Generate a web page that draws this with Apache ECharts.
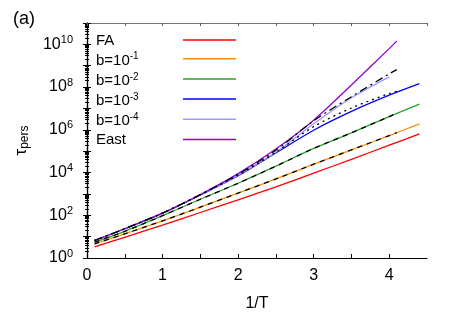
<!DOCTYPE html>
<html>
<head>
<meta charset="utf-8">
<script src="https://cdn.jsdelivr.net/npm/echarts@6/dist/echarts.min.js"></script>
<style>
html,body{margin:0;padding:0;background:#fff;}
#chart{width:463px;height:323px;}
</style>
</head>
<body>
<div id="chart"></div>
<script>
// 1/T grid and log10(tau_pers)
var xs     = [0.1, 0.5, 1, 1.5, 2, 2.5, 3, 3.5, 4, 4.4];
var faLog  = [0.52, 0.97, 1.54, 2.13, 2.72, 3.33, 3.97, 4.62, 5.28, 5.81];
var b1Log  = [0.66, 1.13, 1.74, 2.38, 3.04, 3.70, 4.39, 5.06, 5.73, 6.28];
var b2Log  = [0.74, 1.25, 1.98, 2.75, 3.50, 4.30, 5.13, 5.86, 6.62, 7.20];
var b3Log  = [0.82, 1.37, 2.10, 2.95, 3.85, 4.92, 5.98, 6.86, 7.62, 8.16];
var xs4    = [0.1, 0.5, 1, 1.5, 2, 2.5, 3, 3.5, 4];
var b4Log  = [0.82, 1.37, 2.10, 2.96, 3.88, 4.95, 6.28, 7.50, 8.48];
var xsE    = [0.1, 0.5, 1, 1.5, 2, 2.5, 3, 3.5, 4, 4.1];
var eastLog= [0.82, 1.37, 2.10, 2.97, 3.95, 5.10, 6.45, 8.10, 9.80, 10.15];
// black reference curves
var dashOLog = [0.66, 1.13, 1.74, 2.38, 3.04, 3.70, 4.39, 5.06, 5.73, 5.87];
var dashGLog = [0.74, 1.25, 1.98, 2.75, 3.50, 4.30, 5.13, 5.86, 6.62, 6.80];
var dotLog   = [0.82, 1.37, 2.10, 2.96, 3.88, 4.95, 6.15, 7.02, 7.70, 7.80];
var dashdLog = [0.82, 1.37, 2.10, 2.97, 3.92, 5.05, 6.42, 7.55, 8.62, 8.82];

var names = ['FA', 'b=10^-1', 'b=10^-2', 'b=10^-3', 'b=10^-4', 'East'];
var colors = ['#ff0000', '#ff8c00', '#2ca02c', '#0000ff', '#9999ff', '#9400d3'];

function pts(x, lg) {
	var out = [];
	for (var i = 0; i < x.length; i++) out.push([x[i], Math.pow(10, lg[i])]);
	return out;
}

function lineSeries(name, x, lg, color, type, z) {
	return {
		name: name,
		type: 'line',
		data: pts(x, lg),
		smooth: 0.3,
		symbol: 'none',
		z: z,
		lineStyle: { color: color, width: 1.3, type: type },
		itemStyle: { color: color }
	};
}

var supRich = {
	b: { fontSize: 16, fontFamily: 'Liberation Sans', color: '#000' },
	s: { fontSize: 11, fontFamily: 'Liberation Sans', color: '#000', padding: [0, 0, 9, 0] }
};

var yLabel = function (v) {
	var e = Math.round(Math.log10(v));
	if (e % 2 != 0) return '';
	return '{b|10}{s|' + e + '}';
};

var chart = echarts.init(document.getElementById('chart'));
var option = {
	animation: false,
	title: {
		text: '(a)',
		left: 8,
		top: 5,
		textStyle: { fontSize: 18, fontWeight: 'normal', fontFamily: 'Liberation Sans', color: '#000' }
	},
	grid: { left: 87, right: 36, top: 23, bottom: 65 },
	legend: {
		data: names,
		orient: 'vertical',
		left: 91,
		top: 28,
		align: 'right',
		icon: 'rect',
		itemWidth: 53,
		itemHeight: 1.5,
		itemGap: 3.7,
		formatter: function (n) {
			if (n.indexOf('^') < 0) return '{b|' + n + '}';
			return '{b|' + n.replace('^', '}{s|') + '}';
		},
		textStyle: {
			width: 82,
			align: 'left',
			height: 14,
			fontFamily: 'Liberation Sans',
			fontSize: 15,
			color: '#000',
			rich: {
				b: { fontSize: 15, fontFamily: 'Liberation Sans', color: '#000', align: 'left' },
				s: { fontSize: 10, fontFamily: 'Liberation Sans', color: '#000', align: 'left', padding: [0, 0, 8, 0] }
			}
		}
	},
	xAxis: [{
		type: 'value',
		min: 0,
		max: 4.5,
		interval: 0.5,
		name: '1/T',
		nameLocation: 'middle',
		nameGap: 38,
		nameTextStyle: { fontSize: 16, fontFamily: 'Liberation Sans', color: '#000' },
		axisLine: { lineStyle: { color: '#000', width: 1.2 } },
		axisTick: { inside: true, length: 4, lineStyle: { color: '#000' } },
		splitLine: { show: false },
		axisLabel: {
			fontSize: 16, fontFamily: 'Liberation Sans', color: '#000', margin: 10,
			showMaxLabel: false,
			formatter: function (v) { return v % 1 == 0 ? String(v) : ''; }
		}
	}, {
		type: 'value',
		position: 'top',
		min: 0,
		max: 4.5,
		interval: 0.5,
		axisLine: { show: true, lineStyle: { color: '#777', width: 1.2 } },
		axisTick: { inside: true, length: 3, lineStyle: { color: '#555' } },
		axisLabel: { show: false },
		splitLine: { show: false }
	}],
	yAxis: [{
		type: 'log',
		logBase: 10,
		min: 1,
		max: 1e11,
		interval: 1,
		name: 'τ{p|pers}',
		nameLocation: 'middle',
		nameRotate: 90,
		nameGap: 56,
		nameTextStyle: {
			fontSize: 17, fontFamily: 'Liberation Sans', color: '#000',
			rich: { p: { fontSize: 12, fontFamily: 'Liberation Sans', color: '#000', padding: [8, 0, 0, 0] } }
		},
		axisLine: { show: true, lineStyle: { color: '#000', width: 1.2 } },
		axisTick: { inside: true, length: 4, lineStyle: { color: '#000' } },
		minorTick: { show: true, splitNumber: 9, length: 2, lineStyle: { color: '#000' } },
		splitLine: { show: false },
		minorSplitLine: { show: false },
		axisLabel: { formatter: yLabel, rich: supRich, margin: 14 }
	}, {
		type: 'log',
		logBase: 10,
		min: 1,
		max: 1e11,
		interval: 1,
		position: 'right',
		axisLine: { show: true, lineStyle: { color: '#000', width: 1.2 } },
		axisTick: { inside: true, length: 4, lineStyle: { color: '#000' } },
		minorTick: { show: true, splitNumber: 9, length: 2, lineStyle: { color: '#000' } },
		splitLine: { show: false },
		axisLabel: { show: false }
	}],
	series: [
		lineSeries(names[0], xs, faLog, colors[0], 'solid', 2),
		lineSeries(names[1], xs, b1Log, colors[1], 'solid', 2),
		lineSeries(names[2], xs, b2Log, colors[2], 'solid', 2),
		lineSeries(names[3], xs, b3Log, colors[3], 'solid', 2),
		lineSeries(names[4], xs4, b4Log, colors[4], 'solid', 2),
		lineSeries(names[5], xsE, eastLog, colors[5], 'solid', 2),
		lineSeries('dashO', xsE, dashOLog, '#000', [5, 5], 3),
		lineSeries('dashG', xsE, dashGLog, '#000', [5, 5], 3),
		lineSeries('dot', xsE, dotLog, '#000', [2, 4], 3),
		lineSeries('dashdot', xsE, dashdLog, '#000', [8, 4, 2, 4], 3)
	]
};
chart.setOption(option);
</script>
</body>
</html>
